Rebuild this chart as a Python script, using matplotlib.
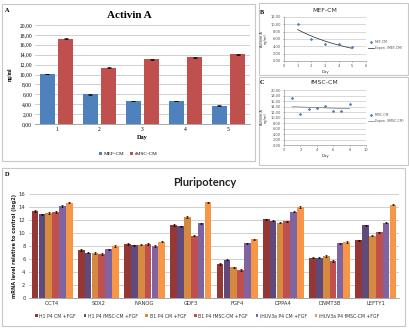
import matplotlib
matplotlib.use("Agg")
import matplotlib.pyplot as plt
import numpy as np
from matplotlib.patches import Rectangle
from matplotlib.ticker import FuncFormatter, MultipleLocator

# ---- Panel A: Activin A secretion ----
days_a = [1, 2, 3, 4, 5]
mef_cm = [10.1, 6.0, 4.6, 4.6, 3.7]
fmsc_cm = [17.2, 11.4, 13.1, 13.5, 14.1]
mef_err = [0.08, 0.06, 0.05, 0.05, 0.05]
fmsc_err = [0.08, 0.08, 0.08, 0.08, 0.08]

# ---- Panel B / C: time courses ----
days_b = [1, 2, 3, 4, 5]
mef_time = [10.1, 6.0, 4.6, 4.6, 3.7]
days_c = [1, 2, 3, 4, 5, 6, 7, 8]
fmsc_time = [17.2, 11.4, 13.1, 13.5, 14.1, 12.5, 12.5, 14.9]

# ---- Panel D: pluripotency markers ----
genes = ["OCT4", "SOX2", "NANOG", "GDF3", "FGF4", "DPPA4", "DNMT3B", "LEFTY1"]
series_names = ["H1 P4 CM +FGF", "H1 P4 fMSC-CM +FGF", "B1 P4 CM +FGF",
                "B1 P4 fMSC-CM +FGF", "iHUV3a P4 CM +FGF", "iHUV3a P4 fMSC-CM +FGF"]
h1_cm = [13.4, 7.4, 8.3, 11.2, 5.25, 12.1, 6.2, 8.85]
h1_fmsc = [12.9, 6.95, 8.1, 11.05, 5.9, 11.9, 6.2, 11.2]
b1_cm = [13.1, 6.9, 8.2, 12.5, 4.7, 11.6, 6.5, 9.6]
b1_fmsc = [13.2, 6.8, 8.3, 9.6, 4.3, 11.8, 5.7, 10.1]
ihuv_cm = [14.15, 7.5, 8.0, 11.5, 8.4, 13.3, 8.4, 11.6]
ihuv_fmsc = [14.65, 8.0, 8.65, 14.7, 9.05, 14.0, 8.6, 14.35]
d_err = [0.12, 0.1, 0.12, 0.12, 0.1, 0.1]

W, H = 410, 333
fig = plt.figure(figsize=(W / 100, H / 100), dpi=100)
fig.patch.set_facecolor("white")


def ax_px(x0, y0, x1, y1):
    return fig.add_axes([x0 / W, 1 - y1 / H, (x1 - x0) / W, (y1 - y0) / H])


def box_px(x0, y0, x1, y1, fill=False):
    fig.patches.append(Rectangle((x0 / W, 1 - y1 / H), (x1 - x0) / W, (y1 - y0) / H,
                                 transform=fig.transFigure, fill=fill,
                                 facecolor="white", edgecolor="#C8C8C8", lw=0.8,
                                 zorder=-1))


def txt_px(x, y, s, **kw):
    fig.text(x / W, 1 - y / H, s, **kw)


comma2 = FuncFormatter(lambda v, p: f"{v:.2f}".replace(".", ","))
GRID = "#C9C9C9"
BLUE = "#4F81BD"
RED = "#C0504D"

# ---------- Panel A ----------
box_px(2, 4, 255, 161)
axA = ax_px(35, 25, 250, 124)
axA.set_facecolor("none")
x = np.array(days_a, dtype=float)
axA.bar(x - 0.21, mef_cm, 0.33, color=BLUE, yerr=mef_err, capsize=1.2,
        error_kw=dict(lw=0.5, capthick=0.5), zorder=3)
axA.bar(x + 0.21, fmsc_cm, 0.33, color=RED, yerr=fmsc_err, capsize=1.2,
        error_kw=dict(lw=0.5, capthick=0.5), zorder=3)
axA.set_xlim(0.5, 5.5)
axA.set_ylim(0, 20)
axA.yaxis.set_major_locator(MultipleLocator(2))
axA.yaxis.set_major_formatter(comma2)
axA.set_xticks(days_a)
axA.grid(axis="y", color=GRID, lw=0.6, zorder=0)
for s in ["top", "right", "left"]:
    axA.spines[s].set_visible(False)
axA.spines["bottom"].set_color("#999999")
axA.spines["bottom"].set_linewidth(0.6)
axA.tick_params(axis="both", length=0, labelsize=4, pad=2)
for lab in axA.get_xticklabels() + axA.get_yticklabels():
    lab.set_family("Liberation Serif")
axA.set_xlabel("Day", fontsize=4.5, family="Liberation Serif", fontweight="bold", labelpad=2)
txt_px(10, 74, "ng/ml", rotation=90, fontsize=4, family="Liberation Serif",
       fontweight="bold", ha="center", va="center")
txt_px(129, 15, "Activin A", fontsize=8, family="Liberation Serif", fontweight="bold",
       ha="center", va="center")
txt_px(7, 11, "A", fontsize=4.5, family="Liberation Serif", fontweight="bold",
       ha="center", va="center")
axA.legend(["MEF-CM", "fMSC-CM"], loc="center", bbox_to_anchor=(128 / W, 1 - 154 / H),
           bbox_transform=fig.transFigure, ncol=2, frameon=False,
           prop=dict(family="Liberation Serif", size=3.8), handlelength=0.6,
           handleheight=0.6, handletextpad=0.3, columnspacing=1.0)

# ---------- Panels B and C: white framed boxes ----------
box_px(259, 3, 408, 75, fill=True)
box_px(259, 77, 408, 165, fill=True)

# ---------- Panel B ----------
axB = ax_px(284, 17, 366, 61)
axB.set_facecolor("none")
bx = np.array(days_b, dtype=float)
kb = np.polyfit(bx, np.log(mef_time), 1)
tb = np.linspace(bx.min(), bx.max(), 50)
axB.plot(tb, np.exp(np.polyval(kb, tb)), color="#222222", lw=0.5, zorder=3,
         label="Expon. (MEF-CM)")
axB.scatter(bx, mef_time, marker="D", s=3, color=BLUE, zorder=4, label="MEF-CM", lw=0)
axB.set_xlim(0, 6)
axB.set_ylim(0, 12)
axB.yaxis.set_major_locator(MultipleLocator(2))
axB.yaxis.set_major_formatter(comma2)
axB.set_xticks(range(0, 7))

# ---------- Panel C ----------
axC = ax_px(284, 90, 366, 145)
axC.set_facecolor("none")
cx = np.array(days_c, dtype=float)
kc = np.polyfit(cx, np.log(fmsc_time), 1)
tc = np.linspace(cx.min(), cx.max(), 50)
axC.plot(tc, np.exp(np.polyval(kc, tc)), color="#777777", lw=0.5, zorder=3,
         label="Expon. (fMSC-CM)")
axC.scatter(cx, fmsc_time, marker="D", s=3, color=BLUE, zorder=4, label="fMSC-CM", lw=0)
axC.set_xlim(0, 10)
axC.set_ylim(0, 20)
axC.yaxis.set_major_locator(MultipleLocator(2))
axC.yaxis.set_major_formatter(comma2)
axC.set_xticks(range(0, 11, 2))

for ax, title, ty, lab, ly, legy in [(axB, "MEF-CM", 11, "B", 12, 45),
                                     (axC, "fMSC-CM", 82, "C", 82, 118)]:
    ax.set_zorder(3)
    ax.grid(axis="y", color=GRID, lw=0.5, zorder=0)
    for s in ["top", "right"]:
        ax.spines[s].set_visible(False)
    for s in ["left", "bottom"]:
        ax.spines[s].set_color("#999999")
        ax.spines[s].set_linewidth(0.5)
    ax.tick_params(axis="both", length=1, width=0.4, labelsize=2.6, pad=1,
                   colors="#555555")
    ax.set_xlabel("Day", fontsize=2.8, labelpad=1.5, color="#333333")
    ax.set_ylabel("Activin A\nng/ml", fontsize=2.6, labelpad=2, color="#333333",
                  linespacing=1.0)
    txt_px(325, ty, title, fontsize=4.5, ha="center", va="center", color="#333333")
    txt_px(262, ly, lab, fontsize=4.5, family="Liberation Serif", fontweight="bold",
           ha="center", va="center")
    h, l = ax.get_legend_handles_labels()
    ax.legend(h[::-1], l[::-1], loc="center left", bbox_to_anchor=(368 / W, 1 - legy / H),
              bbox_transform=fig.transFigure, frameon=False, fontsize=2.3,
              handlelength=1.8, handletextpad=0.4, labelspacing=0.8,
              labelcolor="#555555", borderaxespad=0, borderpad=0)

# ---------- Panel D ----------
box_px(2, 168, 405, 326)
axD = ax_px(29, 194, 399, 298)
axD.set_facecolor("none")
series = [h1_cm, h1_fmsc, b1_cm, b1_fmsc, ihuv_cm, ihuv_fmsc]
colors = ["#953735", "#604A7B", "#D58A3F", "#C0504D", "#8064A2", "#F79646"]
gx = np.arange(len(genes))
bw = 0.145
for i, (vals, c, name) in enumerate(zip(series, colors, series_names)):
    axD.bar(gx + (i - 2.5) * (bw + 0.003), vals, bw, color=c, label=name,
            yerr=d_err[i], capsize=1.0, error_kw=dict(lw=0.5, capthick=0.5), zorder=3)
axD.set_xlim(-0.5, len(genes) - 0.5)
axD.set_ylim(0, 16)
axD.yaxis.set_major_locator(MultipleLocator(2))
axD.set_xticks(gx)
axD.set_xticklabels(genes)
axD.grid(axis="y", color=GRID, lw=0.6, zorder=0)
for s in ["top", "right", "left"]:
    axD.spines[s].set_visible(False)
axD.spines["bottom"].set_color("#999999")
axD.spines["bottom"].set_linewidth(0.6)
axD.tick_params(axis="both", length=0, labelsize=3.8, pad=2.5, colors="#333333")
txt_px(15, 246, "mRNA level relative to control (log2)", rotation=90, fontsize=3.6,
       ha="center", va="center", color="#222222", fontweight="bold")
txt_px(205, 182, "Pluripotency", fontsize=8, ha="center", va="center",
       fontweight="bold", color="#222222", family="Lato")
txt_px(7, 175, "D", fontsize=4.5, family="Liberation Serif", fontweight="bold",
       ha="center", va="center")
axD.legend(loc="center", bbox_to_anchor=(207 / W, 1 - 316 / H),
           bbox_transform=fig.transFigure, ncol=6, frameon=False, fontsize=3.3,
           handlelength=0.6, handleheight=0.6, handletextpad=0.3, columnspacing=1.7,
           labelcolor="#333333")

fig.savefig("out.png", dpi=100, facecolor="white")
